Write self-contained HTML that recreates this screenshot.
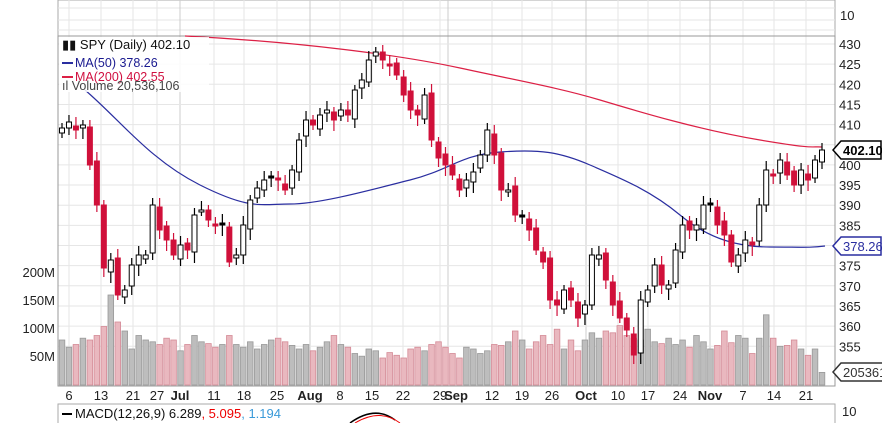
<!DOCTYPE html>
<html><head><meta charset="utf-8"><style>
body{margin:0;background:#fff;width:882px;height:423px;overflow:hidden;font-family:"Liberation Sans",sans-serif}
svg text{font-family:"Liberation Sans",sans-serif}
</style></head><body>
<svg id="s" width="882" height="423" xmlns="http://www.w3.org/2000/svg"></svg>
<script>
const s=document.getElementById('s');let h='';
const L=58,R=835,T=36,B=386;
h+=`<rect x="${L}" y="0" width="${R-L}" height="${T}" fill="#fff" stroke="#aaa"/>`;
[8,20,30].forEach(y=>h+=`<line x1="${L}" x2="${R}" y1="${y}" y2="${y}" stroke="#e4e4e4"/>`);
h+=`<text x="840" y="20" font-size="13" fill="#222">10</text>`;
const dates=[[69,'6'],[101,'13'],[133,'21'],[157,'27'],[180,'Jul',1],[214,'11'],[244,'18'],[277,'25'],[310,'Aug',1],[340,'8'],[372,'15'],[403,'22'],[440,'29'],[492,'12'],[522,'19'],[552,'26'],[586,'Oct',1],[618,'10'],[648,'17'],[680,'24'],[710,'Nov',1],[743,'7'],[774,'14'],[806,'21']];
dates.forEach(d=>{h+=`<line x1="${d[0]}" x2="${d[0]}" y1="0" y2="${B}" stroke="${d[2]?'#ccc':'#e6e6e6'}"/>`;});
h+=`<line x1="448" x2="448" y1="0" y2="${B}" stroke="#ccc"/>`;
const py=p=>44+(430-p)*4.03;
for(let p=355;p<=430;p+=5){const y=py(p);h+=`<line x1="${L}" x2="${R}" y1="${y}" y2="${y}" stroke="#e6e6e6"/>`;
 h+=`<text x="839" y="${y+5}" font-size="13" fill="#222">${p}</text>`;}
h+=`<rect x="${L}" y="${T}" width="${R-L}" height="${B-T}" fill="none" stroke="#999"/>`;
[[272,'200M'],[300,'150M'],[328,'100M'],[356,'50M']].forEach(v=>h+=`<text x="55" y="${v[0]+5}" font-size="13" text-anchor="end" fill="#222">${v[1]}</text>`);
const ys=[128,122,130,125,165,205,268,260,295,290,265,255,255,205,230,240,255,245,250,215,210,220,225,225,262,255,225,200,188,180,178,180,190,170,140,120,125,115,110,120,110,115,90,80,60,52,60,65,75,95,110,115,95,140,158,165,175,190,180,172,155,130,155,190,190,215,215,230,250,262,300,305,290,300,318,305,255,255,280,305,318,330,355,300,290,265,285,285,250,225,230,225,205,205,225,235,262,255,240,245,205,170,175,160,175,185,170,180,160,150];
const N=ys.length,dx=(822-62)/(N-1);
const vols=[50,42,45,52,50,55,65,100,70,60,40,55,50,48,45,52,50,38,45,55,48,46,42,45,55,45,42,48,40,45,50,52,48,44,40,45,38,42,48,55,45,42,35,32,40,38,30,36,33,30,40,42,38,45,48,42,35,30,42,40,35,38,45,44,48,60,50,40,48,55,45,62,40,50,38,50,58,52,60,58,66,55,52,50,62,48,46,52,45,50,42,55,48,40,44,60,47,55,52,35,52,78,52,43,44,50,40,33,40,14];
const cx=i=>62+i*dx;
for(let i=0;i<N;i++){const up=i==0||ys[i]<=ys[i-1];const v=vols[i%vols.length]*0.9;const x=cx(i)-2.8;
 h+=`<rect x="${x}" y="${385-v}" width="5.6" height="${v}" fill="${up?'#bdbdbd':'#e9b8bf'}" stroke="${up?'#999':'#d48a96'}" stroke-width="0.8"/>`;}
h+=`<path fill="none" stroke="#dc2045" stroke-width="1.2" d="M185 36 C300 42 400 55 460 68 S560 88 600 100 S700 130 760 140 S810 146 822 147"/>`;
h+=`<path fill="none" stroke="#2a2ea0" stroke-width="1.2" d="M85 90 C120 120 150 160 200 185 S260 204 290 204 S370 190 410 180 S460 155 500 152 S560 152 590 165 S650 190 680 215 S740 247 770 247 S810 248 825 246"/>`;
for(let i=0;i<N;i++){const c=ys[i],o=i?ys[i-1]+((i*7)%5-2)*2:c+5;const x=cx(i);const up=c<o;const down=i&&c>ys[i-1];
 const top=Math.min(o,c),bot=Math.max(o,c),hh=Math.max(bot-top,2);const col=down?'#d0103a':'#000';
 h+=`<line x1="${x}" x2="${x}" y1="${top-5-(i%3)*2}" y2="${bot+5+(i%4)*2}" stroke="${col}" stroke-width="1.2"/>`;
 h+=`<rect x="${x-2.5}" y="${top}" width="5" height="${hh}" fill="${up?'#fff':col}" stroke="${col}" stroke-width="1"/>`;}
h+=`<rect x="59" y="37" width="150" height="55" fill="#fff" opacity="0.85"/>`;
h+=`<text x="62" y="49" font-size="13" fill="#111">▮▮ SPY (Daily) 402.10</text>`;
h+=`<line x1="62" x2="73" y1="63" y2="63" stroke="#2a2ea0" stroke-width="2"/><text x="75" y="67" font-size="12.5" fill="#1a1a90">MA(50) 378.26</text>`;
h+=`<line x1="62" x2="73" y1="77" y2="77" stroke="#dc2045" stroke-width="2"/><text x="75" y="81" font-size="12.5" fill="#d01040">MA(200) 402.55</text>`;
h+=`<text x="62" y="90" font-size="12.5" fill="#444">ıl Volume 20,536,106</text>`;
function tag(y,t,c,w){h+=`<path d="M833 ${y} l8 -9 h${w} v18 h-${w} z" fill="#fff" stroke="${c}" stroke-width="1.5"/><text x="843" y="${y+5}" font-size="13" font-weight="${c=='#000'?'bold':'normal'}" fill="${c}">${t}</text>`;}
tag(150,'402.10','#000',40);tag(246,'378.26','#2a2ea0',40);tag(372,'205361','#333',42);
dates.forEach(d=>h+=`<text x="${d[0]}" y="400" font-size="13" text-anchor="middle" font-weight="${d[2]?'bold':'normal'}" fill="#222">${d[1]}</text>`);
h+=`<text x="456" y="400" font-size="13" font-weight="bold" text-anchor="middle" fill="#222">Sep</text>`;
h+=`<rect x="${L}" y="404" width="${R-L}" height="30" fill="#fff" stroke="#aaa"/>`;
h+=`<line x1="62" x2="72" y1="414" y2="414" stroke="#000" stroke-width="2"/><text x="75" y="418" font-size="13" fill="#111">MACD(12,26,9) 6.289<tspan fill="#e00">, 5.095</tspan><tspan fill="#3a9ad9">, 1.194</tspan></text>`;
h+=`<path d="M350 423 Q375 405 395 420" fill="none" stroke="#000" stroke-width="1.5"/><path d="M355 423 Q380 408 400 423" fill="none" stroke="#e00"/>`;
h+=`<text x="842" y="416" font-size="13" fill="#222">10</text>`;
s.innerHTML=h;
</script>
</body></html>
